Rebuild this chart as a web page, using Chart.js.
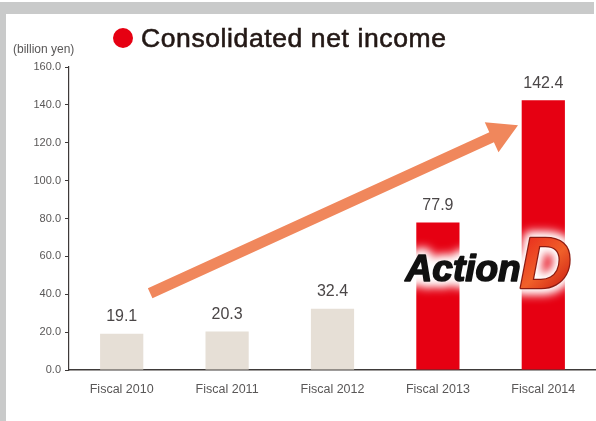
<!DOCTYPE html>
<html>
<head>
<meta charset="utf-8">
<script src="https://cdn.jsdelivr.net/npm/chart.js@4/dist/chart.umd.min.js"></script>
<style>
  html, body { margin: 0; padding: 0; background: #fff; }
  #wrap { width: 596px; height: 421px; }
</style>
</head>
<body>
<div id="wrap"><canvas id="incomeChart" width="596" height="421"></canvas></div>
<script>
// consolidated net income, billion yen
const fiscalYears = ['Fiscal 2010', 'Fiscal 2011', 'Fiscal 2012', 'Fiscal 2013', 'Fiscal 2014'];
const netIncome = [19.1, 20.3, 32.4, 77.9, 142.4];
const actionDYears = ['Fiscal 2013', 'Fiscal 2014'];
const yTicks = [0, 20, 40, 60, 80, 100, 120, 140, 160];

const FONT = '"Liberation Sans", Arial, Helvetica, sans-serif';
const RED = '#e60012';
const BEIGE = '#e6dfd6';
const AXIS = '#3e3a39';

// page frame + white plot background
const frame = {
  id: 'frame',
  beforeDraw(chart) {
    const ctx = chart.ctx;
    ctx.save();
    ctx.fillStyle = '#fff';
    ctx.fillRect(0, 0, chart.width, chart.height);
    ctx.fillStyle = '#c9caca';
    ctx.fillRect(0, 2, 594, 12);
    ctx.fillRect(0, 2, 6, chart.height);
    ctx.restore();
  }
};

// heading, unit label
const heading = {
  id: 'heading',
  afterDraw(chart) {
    const ctx = chart.ctx;
    ctx.save();
    ctx.fillStyle = RED;
    ctx.beginPath();
    ctx.arc(123, 38, 10, 0, Math.PI * 2);
    ctx.fill();
    ctx.fillStyle = '#231815';
    ctx.strokeStyle = '#231815';
    ctx.lineWidth = 0.6;
    ctx.font = `26.5px ${FONT}`;
    ctx.letterSpacing = '0.6px';
    ctx.textBaseline = 'alphabetic';
    ctx.fillText('Consolidated net income', 141, 47);
    ctx.strokeText('Consolidated net income', 141, 47);
    ctx.letterSpacing = '0px';
    ctx.fillStyle = '#595757';
    ctx.font = `12px ${FONT}`;
    ctx.textBaseline = 'middle';
    ctx.fillText('(billion yen)', 13, 50);
    ctx.restore();
  }
};

// numbers above the bars
const valueLabels = {
  id: 'valueLabels',
  afterDatasetsDraw(chart) {
    const ctx = chart.ctx;
    const meta = chart.getDatasetMeta(0);
    ctx.save();
    ctx.fillStyle = '#4a4647';
    ctx.font = `16px ${FONT}`;
    ctx.textAlign = 'center';
    ctx.textBaseline = 'middle';
    meta.data.forEach((bar, i) => {
      ctx.fillText(netIncome[i].toFixed(1), bar.x, bar.y - 17);
    });
    ctx.restore();
  }
};

// growth arrow, given in category index / value units
const growthArrow = {
  id: 'growthArrow',
  afterDatasetsDraw(chart) {
    const { x, y } = chart.scales;
    const x0 = x.getPixelForValue(0.27), y0 = y.getPixelForValue(40.5);
    const x1 = x.getPixelForValue(3.76), y1 = y.getPixelForValue(129.3);
    const ang = Math.atan2(y1 - y0, x1 - x0);
    const len = Math.hypot(x1 - x0, y1 - y0);
    const head = 29, half = 16.5, shaft = 5.5;
    const ctx = chart.ctx;
    ctx.save();
    ctx.translate(x0, y0);
    ctx.rotate(ang);
    ctx.fillStyle = '#f0875c';
    ctx.beginPath();
    ctx.moveTo(0, -shaft);
    ctx.lineTo(len - head, -shaft);
    ctx.lineTo(len - head, -half);
    ctx.lineTo(len, 0);
    ctx.lineTo(len - head, half);
    ctx.lineTo(len - head, shaft);
    ctx.lineTo(0, shaft);
    ctx.closePath();
    ctx.fill();
    ctx.restore();
  }
};

// "Action D" stamp between the last two bars
const actionLogo = {
  id: 'actionLogo',
  afterDatasetsDraw(chart) {
    const { x, y } = chart.scales;
    const cx = (x.getPixelForValue(3) + x.getPixelForValue(4)) / 2;
    const base = y.getPixelForValue(47);
    const ctx = chart.ctx;
    const ax = cx - 85, dx = cx + 29;
    const fontA = `italic bold 37px ${FONT}`;
    const fontD = `italic bold 72px ${FONT}`;
    ctx.save();
    ctx.textBaseline = 'alphabetic';
    ctx.lineJoin = 'round';

    // soft white halo
    ctx.filter = 'blur(5px)';
    ctx.strokeStyle = '#fff';
    ctx.fillStyle = '#fff';
    ctx.lineWidth = 14;
    ctx.font = fontA;
    ctx.strokeText('Action', ax, base);
    ctx.fillText('Action', ax, base);
    ctx.font = fontD;
    ctx.strokeText('D', dx, base + 7);
    ctx.fillText('D', dx, base + 7);
    ctx.filter = 'none';

    ctx.font = fontA;
    ctx.fillStyle = '#111';
    ctx.strokeStyle = '#111';
    ctx.lineWidth = 1.6;
    ctx.fillText('Action', ax, base);
    ctx.strokeText('Action', ax, base);

    ctx.font = fontD;
    const g = ctx.createLinearGradient(dx, base - 50, dx + 55, base + 7);
    g.addColorStop(0, '#e8221a');
    g.addColorStop(0.55, '#f0602a');
    g.addColorStop(1, '#c8140f');
    ctx.lineWidth = 2.5;
    ctx.strokeStyle = '#8c1a10';
    ctx.strokeText('D', dx, base + 7);
    ctx.fillStyle = g;
    ctx.fillText('D', dx, base + 7);
    ctx.restore();
  }
};

new Chart(document.getElementById('incomeChart'), {
  type: 'bar',
  data: {
    labels: fiscalYears,
    datasets: [{
      data: netIncome,
      backgroundColor: fiscalYears.map(yr => actionDYears.includes(yr) ? RED : BEIGE),
      borderWidth: 0,
      barPercentage: 0.41,
      categoryPercentage: 1,
    }],
  },
  options: {
    responsive: false,
    animation: false,
    devicePixelRatio: 1,
    layout: { padding: { top: 67, left: 0, right: 0, bottom: 0 } },
    plugins: { legend: { display: false }, tooltip: { enabled: false } },
    scales: {
      x: {
        grid: { display: false, drawTicks: false },
        border: { display: true, color: AXIS, width: 1.5 },
        ticks: { color: '#595757', font: { family: FONT, size: 12.5 }, padding: 12, maxRotation: 0 },
        afterFit: s => { s.height = 51; },
      },
      y: {
        min: 0,
        max: 160,
        afterBuildTicks: s => { s.ticks = yTicks.map(v => ({ value: v })); },
        grid: { drawOnChartArea: false, drawTicks: true, tickLength: 4, color: AXIS, lineWidth: 1 },
        border: { display: true, color: AXIS, width: 1.2 },
        ticks: { color: '#595757', font: { family: FONT, size: 11 }, padding: 4, callback: v => v.toFixed(1) },
        afterFit: s => { s.width = 69; },
      },
    },
  },
  plugins: [frame, valueLabels, growthArrow, actionLogo, heading],
});
</script>
</body>
</html>
